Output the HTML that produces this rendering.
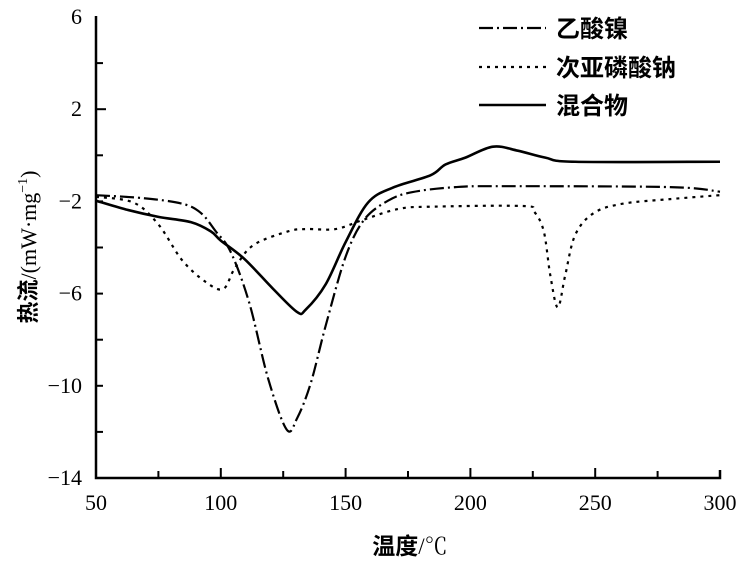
<!DOCTYPE html>
<html><head><meta charset="utf-8"><style>
html,body{margin:0;padding:0;background:#fff;}
svg{display:block;}
text{font-family:"Liberation Serif","Noto Serif CJK SC","Noto Sans CJK SC",serif;fill:#000;}
.cjk{font-family:"Noto Sans CJK SC",sans-serif;font-weight:bold;}
</style></head><body>
<svg id="s" width="750" height="567" viewBox="0 0 750 567" xmlns="http://www.w3.org/2000/svg">
<g id="ax" stroke="#000" stroke-width="2.5" fill="none">
<path d="M96,16 L96,478 L720,478 L720,470"/>
</g>
<g id="ticks" stroke="#000" stroke-width="2" fill="none"></g>
<g id="lbl" font-size="22"></g>
<g id="curves" fill="none" stroke="#000" stroke-width="2.2"></g>
<g font-size="24">
<line x1="479" y1="28" x2="546" y2="28" stroke="#000" stroke-width="2.2" stroke-dasharray="14,4,2,4"/>
<text x="556" y="37" class="cjk">乙酸镍</text>
<line x1="479" y1="67" x2="546" y2="67" stroke="#000" stroke-width="2.2" stroke-dasharray="3,5"/>
<text x="556" y="76" class="cjk">次亚磷酸钠</text>
<line x1="479" y1="105" x2="546" y2="105" stroke="#000" stroke-width="2.5"/>
<text x="556" y="114" class="cjk">混合物</text>
</g>
<text x="410" y="554" font-size="23" text-anchor="middle"><tspan class="cjk" font-weight="normal">温度</tspan>/℃</text>
<text transform="translate(36,247) rotate(-90)" font-size="22" text-anchor="middle"><tspan class="cjk">热流</tspan>/(mW·mg<tspan font-size="14" dy="-9">−1</tspan><tspan dy="9">)</tspan></text>
</svg>
<script>
var NS="http://www.w3.org/2000/svg";
function X(t){return 96+(t-50)*2.496;}
function Y(v){return 17+(6-v)*23.05;}
var tk=document.getElementById('ticks'),lb=document.getElementById('lbl');
function el(p,tag,a,txt){var e=document.createElementNS(NS,tag);for(var k in a)e.setAttribute(k,a[k]);if(txt)e.textContent=txt;p.appendChild(e);return e;}
for(var t=75;t<300;t+=25){el(tk,'line',{x1:X(t),y1:478,x2:X(t),y2:t%50==0?468:471});}
for(var t=50;t<=300;t+=50){el(lb,'text',{x:X(t),y:510,'text-anchor':'middle'},String(t));}
for(var v=4;v>-14;v-=2){el(tk,'line',{x1:96,y1:Y(v),x2:v%4==2?106:103,y2:Y(v)});}
[6,2,-2,-6,-10,-14].forEach(function(v){el(lb,'text',{x:82,y:Y(v)+7,'text-anchor':'end'},(v<0?'−':'')+Math.abs(v));});
function path(pts){var p=pts.map(function(a){return [X(a[0]),Y(a[1])];});var d='M'+p[0][0]+','+p[0][1];
for(var i=0;i<p.length-1;i++){var p0=p[i-1]||p[i],p1=p[i],p2=p[i+1],p3=p[i+2]||p2;
d+=' C'+(p1[0]+(p2[0]-p0[0])/6)+','+(p1[1]+(p2[1]-p0[1])/6)+' '+(p2[0]-(p3[0]-p1[0])/6)+','+(p2[1]-(p3[1]-p1[1])/6)+' '+p2[0]+','+p2[1];}return d;}
var mix=[[50,-1.97],[62,-2.35],[75,-2.67],[88,-2.9],[96,-3.3],[100,-3.7],[109.5,-4.5],[121,-5.8],[130.6,-6.8],[134,-6.7],[142,-5.6],[150,-3.77],[159,-2.05],[169,-1.4],[184,-0.87],[190,-0.4],[198,-0.1],[209,0.375],[219,0.2],[230,-0.1],[242,-0.28],[300,-0.28]];
var ni=[[50,-1.73],[69,-1.86],[84.5,-2.1],[92,-2.5],[98,-3.3],[104,-4.2],[111.4,-6.4],[119,-9.7],[126.4,-11.9],[130.6,-11.4],[136,-9.9],[142,-7.4],[150,-4.4],[157.4,-2.8],[167,-1.97],[176.6,-1.6],[194,-1.38],[213,-1.34],[280,-1.38],[300,-1.58]];
var na=[[50,-1.8],[65,-2.05],[75,-3],[84.5,-4.55],[94,-5.5],[101,-5.8],[105.6,-4.9],[113,-3.9],[127,-3.3],[134.4,-3.2],[146,-3.2],[157,-2.8],[171,-2.33],[184,-2.23],[221,-2.2],[225.5,-2.44],[229.4,-3.3],[232,-5.2],[235,-6.6],[238,-5.2],[242,-3.45],[249.5,-2.5],[261,-2.1],[280,-1.9],[300,-1.73]];
var c=document.getElementById('curves');
el(c,'path',{d:path(mix),'stroke-width':2.6});
el(c,'path',{d:path(ni),'stroke-dasharray':'14,4,2,4'});
el(c,'path',{d:path(na),'stroke-dasharray':'3,5'});
</script>
</body></html>
